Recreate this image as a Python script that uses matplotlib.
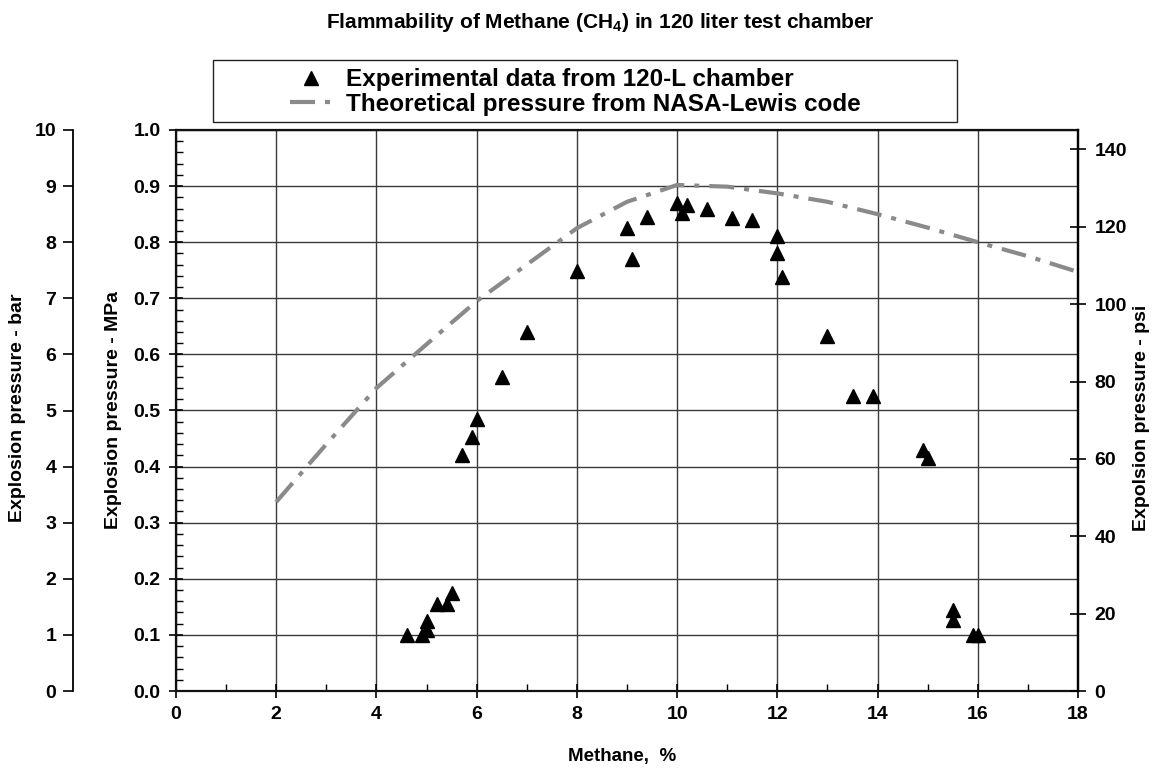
import matplotlib
matplotlib.use("Agg")
import matplotlib.pyplot as plt
from matplotlib.lines import Line2D
from matplotlib.patches import Rectangle
from matplotlib.ticker import MultipleLocator, FormatStrFormatter

plt.rcParams['font.family'] = ['Liberation Sans', 'DejaVu Sans']
plt.rcParams['font.weight'] = 'bold'
plt.rcParams['mathtext.fontset'] = 'custom'
plt.rcParams['mathtext.rm'] = 'Liberation Sans:bold'
plt.rcParams['mathtext.it'] = 'Liberation Sans:bold'
plt.rcParams['mathtext.bf'] = 'Liberation Sans:bold'

# Experimental explosion pressures measured in the 120-L chamber
exp_methane = [4.6, 4.9, 5.0, 5.0, 5.2, 5.4, 5.5, 5.7, 5.9, 6.0, 6.5, 7.0,
               8.0, 9.0, 9.1, 9.4, 10.0, 10.1, 10.2, 10.6, 11.1, 11.5,
               12.0, 12.0, 12.1, 13.0, 13.5, 13.9, 14.9, 15.0, 15.5, 15.5,
               15.9, 16.0]
exp_pressure_mpa = [0.100, 0.100, 0.108, 0.125, 0.155, 0.155, 0.175, 0.420,
                    0.453, 0.485, 0.560, 0.640, 0.748, 0.825, 0.770, 0.845,
                    0.870, 0.852, 0.866, 0.859, 0.843, 0.840, 0.811, 0.780,
                    0.738, 0.633, 0.525, 0.525, 0.430, 0.415, 0.144, 0.127,
                    0.100, 0.100]

# Theoretical pressure (NASA-Lewis equilibrium code)
theory_methane = [2, 3, 4, 5, 6, 7, 8, 9, 10, 11, 12, 13, 14, 15, 16, 17, 18]
theory_pressure_mpa = [0.337, 0.440, 0.540, 0.618, 0.695, 0.760, 0.825, 0.872,
                       0.902, 0.899, 0.887, 0.872, 0.850, 0.826, 0.800, 0.775,
                       0.747]

MPA_TO_BAR = 10.0
MPA_TO_PSI = 145.038

W, H = 1156, 768
fig = plt.figure(figsize=(W / 100, H / 100), dpi=100)

L, R, T, B = 176, 1078, 130, 691
rect = [L / W, 1 - B / H, (R - L) / W, (B - T) / H]
ax = fig.add_axes(rect)

GRID = '#3a3a3a'
TICK_FS = 14
LABEL_FS = 14

ax.set_xlim(0, 18)
ax.set_ylim(0, 1.0)
ax.xaxis.set_major_locator(MultipleLocator(2))
ax.xaxis.set_minor_locator(MultipleLocator(1))
ax.yaxis.set_major_locator(MultipleLocator(0.1))
ax.yaxis.set_minor_locator(MultipleLocator(0.02))
ax.yaxis.set_major_formatter(FormatStrFormatter('%.1f'))
ax.grid(True, which='major', color=GRID, lw=1.0)
ax.set_axisbelow(True)
ax.tick_params(axis='both', which='major', direction='inout', length=10,
               width=1.2, labelsize=TICK_FS, pad=6)
ax.tick_params(axis='both', which='minor', direction='in', length=5, width=1.0)
for s in ax.spines.values():
    s.set_linewidth(1.6)
    s.set_color('#111111')
for lab in ax.get_xticklabels() + ax.get_yticklabels():
    lab.set_fontweight('bold')

# theoretical curve
theory_line, = ax.plot(theory_methane, theory_pressure_mpa, color='#8a8a8a',
                       lw=3.0, solid_capstyle='butt', zorder=3)
theory_line.set_dashes([6, 2.4, 1.2, 2.4])
theory_line.set_dash_capstyle('butt')

# experimental data
exp_pts, = ax.plot(exp_methane, exp_pressure_mpa, linestyle='none', marker='^',
                   ms=10, color='black', zorder=4)

# psi axis on the right
axr = ax.twinx()
axr.set_ylim(0, 1.0 * MPA_TO_PSI)
axr.yaxis.set_major_locator(MultipleLocator(20))
axr.tick_params(axis='y', direction='inout', length=12, width=1.2,
                labelsize=TICK_FS, pad=6)
for s in axr.spines.values():
    s.set_visible(False)
axr.spines['right'].set_visible(True)
axr.spines['right'].set_linewidth(1.6)
for lab in axr.get_yticklabels():
    lab.set_fontweight('bold')

# bar axis on the far left
bar_x = 73
axb = fig.add_axes([bar_x / W, 1 - B / H, 0.0005, (B - T) / H])
axb.set_ylim(0, 1.0 * MPA_TO_BAR)
axb.yaxis.set_major_locator(MultipleLocator(1))
axb.set_xticks([])
axb.patch.set_visible(False)
for k in ('top', 'right', 'bottom'):
    axb.spines[k].set_visible(False)
axb.spines['left'].set_linewidth(1.3)
axb.tick_params(axis='y', direction='out', length=7, width=1.2,
                labelsize=TICK_FS, pad=5)
for lab in axb.get_yticklabels():
    lab.set_fontweight('bold')

# axis titles
fig.text(18 / W, 1 - 408 / H, 'Explosion pressure - bar', rotation=90,
         ha='center', va='center', fontsize=LABEL_FS, fontweight='bold')
fig.text(113 / W, 1 - 410 / H, 'Explosion pressure - MPa', rotation=90,
         ha='center', va='center', fontsize=LABEL_FS, fontweight='bold')
fig.text(1141 / W, 1 - 418 / H, 'Expolsion pressure - psi', rotation=90,
         ha='center', va='center', fontsize=LABEL_FS, fontweight='bold')
fig.text(622 / W, 1 - 756 / H, 'Methane,  %', ha='center', va='center',
         fontsize=13.5, fontweight='bold')
fig.text(600 / W, 1 - 22 / H,
         'Flammability of Methane (CH$_4$) in 120 liter test chamber',
         ha='center', va='center', fontsize=15, fontweight='bold')

# legend with a square frame
lx0, lx1, ly0, ly1 = 213, 957, 60, 122
fig.patches.append(Rectangle((lx0 / W, 1 - ly1 / H), (lx1 - lx0) / W,
                             (ly1 - ly0) / H, transform=fig.transFigure,
                             fill=False, edgecolor='#222222', lw=1.0))
h_exp = Line2D([], [], linestyle='none', marker='^', ms=10, color='black')
h_th = Line2D([], [], color='#8a8a8a', lw=3.0, dashes=[6, 2.4, 1.2, 2.4])
leg = fig.legend([h_exp, h_th],
                 ['Experimental data from 120-L chamber',
                  'Theoretical pressure from NASA-Lewis code'],
                 loc='center left', bbox_to_anchor=(290 / W, 1 - 92 / H),
                 bbox_transform=fig.transFigure, frameon=False,
                 prop={'size': 17.5, 'weight': 'bold'}, handlelength=1.7,
                 handletextpad=0.6, labelspacing=0.05, borderpad=0,
                 borderaxespad=0)

fig.savefig('out.png', dpi=100)
